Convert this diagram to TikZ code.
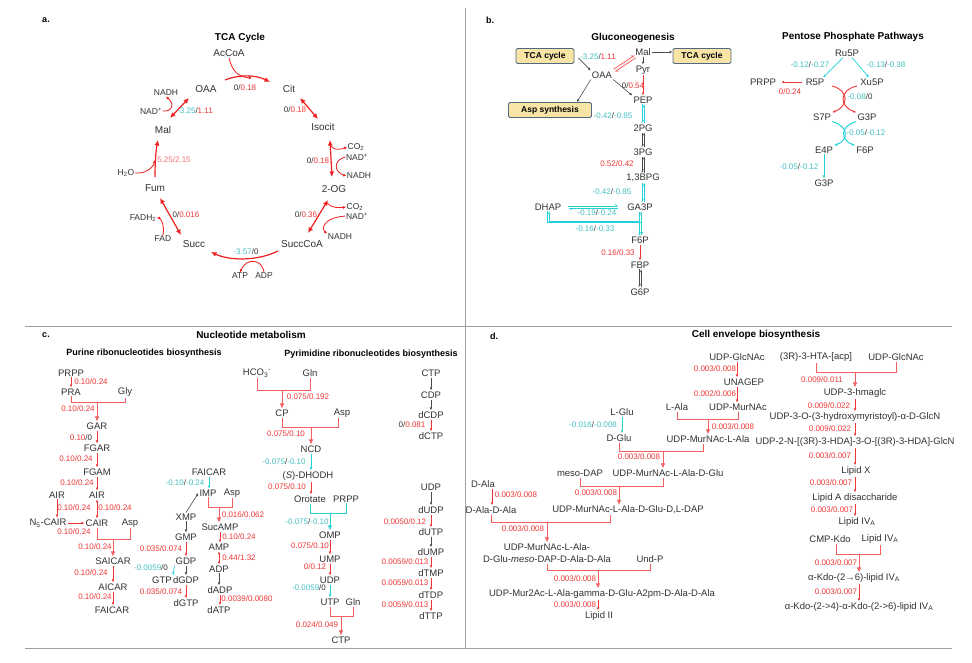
\documentclass[tikz,border=0pt]{standalone}
\usepackage{fontspec}
\setmainfont{Liberation Sans}
\usetikzlibrary{arrows.meta,calc}

\definecolor{fred}{RGB}{240,55,55}
\definecolor{tred}{RGB}{240,30,30}
\definecolor{fpink}{RGB}{245,115,115}
\definecolor{fcyan}{RGB}{70,192,194}
\definecolor{acyan}{RGB}{35,210,216}
\definecolor{txt}{RGB}{50,50,50}
\definecolor{boxfill}{RGB}{248,229,166}
\definecolor{boxline}{RGB}{80,104,132}

\newcommand{\rv}[1]{\textcolor{fred}{#1}}
\newcommand{\cv}[1]{\textcolor{fcyan}{#1}}
\newcommand{\lipa}{Lipid IV\textsubscript{A}}
% straight step down from one node to the next
\newcommand{\vstep}[3][rx]{\draw[#1] (#2.south) -- (#2.south |- #3.north);}
% two opposite harpoons between stacked nodes
\newcommand{\eqpair}[3]{%
  \draw[hp,#3] ($(#1.south)+(-1.2,0)$) -- ($(#1.south |- #2.north)+(-1.2,0)$);
  \draw[hp,#3] ($(#1.south |- #2.north)+(1.2,0)$) -- ($(#1.south)+(1.2,0)$);}

\begin{document}
\begin{tikzpicture}[x=1pt,y=-1pt,
  every node/.style={font=\fontsize{9.5}{10.5}\selectfont,text=txt,inner sep=1pt},
  tnm/.style={font=\fontsize{10}{11}\selectfont},
  cof/.style={font=\fontsize{8.5}{9}\selectfont,inner sep=0.5pt},
  fl/.style={font=\fontsize{8}{9}\selectfont,inner sep=0pt},
  ttl/.style={font=\bfseries\fontsize{10}{12}\selectfont,text=black},
  sub/.style={font=\bfseries\fontsize{9}{11}\selectfont,text=black},
  box/.style={draw=boxline,fill=boxfill,rounded corners=1.5pt,line width=0.8pt,
    font=\bfseries\fontsize{8.5}{10}\selectfont,text=black,minimum height=15pt},
  divider/.style={draw=gray!75,line width=0.9pt},
  rx/.style={draw=fred,line width=0.6pt,-{Latex[length=3pt,width=2.6pt]}},
  rxb/.style={rx,{Latex[length=3pt,width=2.6pt]}-{Latex[length=3pt,width=2.6pt]}},
  cx/.style={draw=acyan,line width=0.7pt,-{Latex[length=3pt,width=2.6pt]}},
  gx/.style={draw=gray!60!black,line width=0.6pt,-{Latex[length=3pt,width=2.6pt]}},
  rb/.style={draw=fred!80,line width=0.7pt},
  cb/.style={draw=acyan,line width=0.9pt},
  bt/.style={-{Latex[length=5pt,width=4.6pt]}},
  tca/.style={draw=tred,line width=1.2pt,-{Latex[length=5.5pt,width=5pt]}},
  tcab/.style={tca,{Latex[length=5.5pt,width=5pt]}-{Latex[length=5.5pt,width=5pt]}},
  side/.style={draw=tred,line width=0.8pt,-{Latex[length=3pt,width=3pt]}},
  hp/.style={line width=0.6pt,-{Straight Barb[harpoon,length=2.5pt,width=3.5pt]}}]

\useasboundingbox (0,0) rectangle (972,662);
\fill[white] (0,0) rectangle (972,662);

% panel frame
\draw[divider] (465,8) -- (465,648);
\draw[divider] (25,326) -- (952,326);
\draw[divider] (25,648) -- (952,648);

% ---------------- a. TCA cycle
\node[sub] (la) at (46,20) {a.};
\node[ttl] (ttca) at (240,38) {TCA Cycle};
\node[tnm] (acc) at (229,53) {AcCoA};
\node[tnm] (oaa) at (206,89) {OAA};
\node[tnm] (cit) at (289,89) {Cit};
\node[tnm] (icit) at (323,127) {Isocit};
\node[tnm] (og) at (334,189) {2-OG};
\node[tnm] (scoa) at (302,244) {SuccCoA};
\node[tnm] (succ) at (194,244) {Succ};
\node[tnm] (fum) at (155,188) {Fum};
\node[tnm] (mal) at (163,130) {Mal};
% cofactors
\node[cof] (nadha) at (166,93) {NADH};
\node[cof] (nada) at (151,111) {NAD\textsuperscript{+}};
\node[cof] (co2a) at (356,147) {CO\textsubscript{2}};
\node[cof] (nadb) at (357,157) {NAD\textsuperscript{+}};
\node[cof] (nadhb) at (359,176) {NADH};
\node[cof] (co2b) at (355,207) {CO\textsubscript{2}};
\node[cof] (nadc) at (357,216) {NAD\textsuperscript{+}};
\node[cof] (nadhc) at (340,237) {NADH};
\node[cof] (atp) at (240,276) {ATP};
\node[cof] (adp) at (264,276) {ADP};
\node[cof] (fadh) at (143,218) {FADH\textsubscript{2}};
\node[cof] (fad) at (163,239) {FAD};
\node[cof] (h2o) at (126,173) {H\textsubscript{2}O};

\draw[tca] ($(oaa)+(19,-9)$) .. controls (240,74) and (256,75) .. ($(cit)+(-19,-7)$);
\draw[side] (acc.south) .. controls (232,71) and (238,77) .. (252,78);
\draw[tcab] ($(cit)+(11,9)$) -- ($(icit)+(-5,-8)$);
\draw[tcab] ($(icit)+(7,13)$) -- ($(og)+(-2,-12)$);
\draw[side] (331,146) .. controls (334,151) and (342,149) .. (co2a.west);
\draw[side] (nadb.west) .. controls (333,160) and (334,172) .. (nadhb.west);
\draw[tcab] ($(og)+(-6,11)$) -- ($(scoa)+(6,-11)$);
\draw[side] (327,203) .. controls (331,208) and (339,208) .. (co2b.west);
\draw[side] (nadc.west) .. controls (321,218) and (322,230) .. (nadhc.north west);
\draw[tca] ($(scoa)+(-24,7)$) .. controls (258,261) and (230,261) .. ($(succ)+(17,8)$);
\draw[side] (adp.north) .. controls (262,258) and (246,258) .. (atp.north);
\draw[tcab] ($(succ)+(-13,-9)$) -- ($(fum)+(5,10)$);
\draw[side] (fad.north) .. controls (165,224) and (160,218) .. (fadh.east);
\draw[tca] ($(fum)+(0,-11)$) .. controls (155,162) and (156,150) .. ($(mal)+(-5,10)$);
\draw[side] (h2o.east) .. controls (145,174) and (153,168) .. (155,160);
\draw[tcab] ($(mal)+(7,-12)$) -- ($(oaa)+(-17,9)$);
\draw[side] (nada.east) .. controls (172,112) and (175,104) .. (nadha.south);

\node[fl] (fa1) at (245,88) {0/\rv{0.18}};
\node[fl] (fa2) at (295,110) {0/\rv{0.18}};
\node[fl] (fa3) at (318,161) {0/\rv{0.18}};
\node[fl] (fa4) at (306,215) {0/\rv{0.36}};
\node[fl] (fa5) at (246,252) {\cv{-3.57}/0};
\node[fl] (fa6) at (186,215) {0/\rv{0.016}};
\node[fl,text=fpink] (fa7) at (174,160) {5.25/2.15};
\node[fl] (fa8) at (195,111) {\cv{-3.25}/\rv{1.11}};

% ---------------- b. gluconeogenesis
\node[sub] (lb) at (490,20) {b.};
\node[ttl] (tglu) at (633,38) {Gluconeogenesis};
\node[box,minimum width=58pt] (tcal) at (545,56) {TCA cycle};
\node[box,minimum width=58pt] (tcar) at (702,56) {TCA cycle};
\node[box,minimum width=83pt] (asps) at (550,110) {Asp synthesis};
\node (gmal) at (643,52) {Mal};
\node (gpyr) at (643,70) {Pyr};
\node (goaa) at (602,75) {OAA};
\node (gpep) at (643,100) {PEP};
\node (g2pg) at (643,128) {2PG};
\node (g3pg) at (643,152) {3PG};
\node (gbpg) at (643,178) {1,3BPG};
\node (gga3p) at (640,207) {GA3P};
\node (gdhap) at (548,207) {DHAP};
\node (gf6p) at (640,240) {F6P};
\node (gfbp) at (640,265) {FBP};
\node (gg6p) at (640,292) {G6P};

\draw[gx] ($(tcal.east)+(4,2)$) -- (goaa.north west);
\draw[gx] (gmal.east) -- (gmal.east -| tcar.west);
\vstep[gx]{gmal}{gpyr}
\vstep{gpyr}{gpep}
\draw[gx] (goaa.south east) -- (gpep.north west);
\draw[gx] (goaa.south west) -- ($(asps.north east)+(-15,0)$);
\draw[hp,fred] ($(goaa.north east)+(0.4,-1.2)$) -- ($(gmal.south west)+(0.4,-1.2)$);
\draw[hp,fred] ($(gmal.south west)+(1.6,1.2)$) -- ($(goaa.north east)+(1.6,1.2)$);
\eqpair{gpep}{g2pg}{acyan}
\eqpair{g2pg}{g3pg}{gray!60!black}
\eqpair{g3pg}{gbpg}{gray!60!black}
\eqpair{gbpg}{gga3p}{acyan}
\eqpair{gga3p}{gf6p}{acyan}
\vstep{gf6p}{gfbp}
\eqpair{gfbp}{gg6p}{gray!60!black}
\draw[hp,acyan] ($(gdhap.east)+(6,-1.2)$) -- ($(gga3p.west)+(-8,-1.2)$);
\draw[hp,acyan] ($(gga3p.west)+(-8,1.2)$) -- ($(gdhap.east)+(6,1.2)$);
\draw[hp,acyan] ($(gdhap.south)+(-1.2,0)$) -- ++(0,10.5) -| ($(gf6p.north)+(1.2,0)$);
\draw[hp,acyan] ($(gf6p.north)+(-1.2,0)$) -- ++(0,-14) -| ($(gdhap.south)+(1.2,0)$);

\node[fl] (fb1) at (598,57) {\cv{-3.25}/\rv{1.11}};
\node[fl] (fb2) at (633,86) {0/\rv{0.54}};
\node[fl] (fb3) at (613,116) {\cv{-0.42}/\cv{-0.85}};
\node[fl] (fb4) at (617,164) {\rv{0.52/0.42}};
\node[fl] (fb5) at (612,192) {\cv{-0.42}/\cv{-0.85}};
\node[fl] (fb6) at (597,213) {\cv{-0.19}/\cv{-0.24}};
\node[fl] (fb7) at (595,229) {\cv{-0.16}/\cv{-0.33}};
\node[fl] (fb8) at (618,253) {\rv{0.16/0.33}};

% pentose phosphate
\node[ttl] (tppp) at (853,37) {Pentose Phosphate Pathways};
\node (ru5p) at (847,53) {Ru5P};
\node (r5p) at (815,82) {R5P};
\node (xu5p) at (872,82) {Xu5P};
\node (prppa) at (763,82) {PRPP};
\node (s7p) at (822,117) {S7P};
\node (pg3p) at (867,117) {G3P};
\node (e4p) at (824,150) {E4P};
\node (pf6p) at (865,150) {F6P};
\node (pg3pb) at (824,183) {G3P};

\draw[cx] ($(ru5p.south)+(-4,0)$) -- ($(r5p.north)+(8,0)$);
\draw[cx] ($(ru5p.south)+(5,0)$) -- ($(xu5p.north)+(-3,0)$);
\draw[rx,shorten <=3pt,shorten >=4pt] (r5p.west) -- (prppa.east);
\draw[rx,line width=0.9pt] ($(r5p)+(17,4)$) .. controls (849,90) and (849,106) .. (s7p.north east);
\draw[rx,line width=0.9pt] ($(xu5p)+(-15,4)$) .. controls (839,90) and (839,106) .. (pg3p.north west);
\draw[cx,line width=1pt] (s7p.south east) .. controls (849,126) and (849,140) .. (e4p.north east);
\draw[cx,line width=1pt] (pg3p.south west) .. controls (840,126) and (840,140) .. (pf6p.north west);
\vstep[cx]{e4p}{pg3pb}

\node[fl] (fp1) at (810,65) {\cv{-0.12}/\cv{-0.27}};
\node[fl] (fp2) at (886,65) {\cv{-0.13}/\cv{-0.38}};
\node[fl] (fp3) at (790,92) {\rv{0/0.24}};
\node[fl] (fp4) at (860,97) {\cv{-0.08}/0};
\node[fl] (fp5) at (866,133) {\cv{-0.05}/\cv{-0.12}};
\node[fl] (fp6) at (799,167) {\cv{-0.05}/\cv{-0.12}};

% ---------------- c. nucleotide metabolism
\node[sub] (lc) at (46,335) {c.};
\node[ttl] (tnuc) at (251,335) {Nucleotide metabolism};
\node[sub] (tpur) at (144,353) {Purine ribonucleotides biosynthesis};
\node[sub] (tpyr) at (371,354) {Pyrimidine ribonucleotides biosynthesis};

% purine
\node (pprpp) at (71,373) {PRPP};
\node (ppra) at (71,392) {PRA};
\node (pgly) at (125,392) {Gly};
\node (pgar) at (97,426) {GAR};
\node (pfgar) at (97,448) {FGAR};
\node (pfgam) at (97,472) {FGAM};
\node (pairl) at (57,495) {AIR};
\node (pairr) at (97,495) {AIR};
\node (pn5) at (48,523) {N\textsubscript{5}-CAIR};
\node (pcair) at (97,523) {CAIR};
\node (pasp) at (130,523) {Asp};
\node (psaicar) at (113,561) {SAICAR};
\node (paicar) at (113,587) {AICAR};
\node (pfaicar) at (112,610) {FAICAR};

\vstep{pprpp}{ppra}
\draw[rb] (ppra.south) -- ++(0,6) coordinate (jgar) -| (pgly.south);
\draw[rb,bt] (jgar -| pgar) -- (pgar);
\vstep{pgar}{pfgar}
\vstep{pfgar}{pfgam}
\vstep{pfgam}{pairr}
\vstep{pairl}{pn5}
\vstep[rxb]{pairr}{pcair}
\draw[rx] (pn5) -- (pcair);
\draw[rb] (pcair.south) -- ++(0,12) coordinate (jsai) -| (pasp.south);
\draw[rb,bt] (jsai -| psaicar) -- (psaicar);
\vstep{psaicar}{paicar}
\vstep{paicar}{pfaicar}

\node[fl] (fc1) at (91,382) {\rv{0.10/0.24}};
\node[fl] (fc2) at (78,409) {\rv{0.10/0.24}};
\node[fl] (fc3) at (81,438) {\rv{0.10}/0};
\node[fl] (fc4) at (76,459) {\rv{0.10/0.24}};
\node[fl] (fc5) at (77,483) {\rv{0.10/0.24}};
\node[fl] (fc6) at (74,508) {\rv{0.10/0.24}};
\node[fl] (fc7) at (115,508) {\rv{0.10/0.24}};
\node[fl] (fc8) at (74,532) {\rv{0.10/0.24}};
\node[fl] (fc9) at (95,547) {\rv{0.10/0.24}};
\node[fl] (fc10) at (91,573) {\rv{0.10/0.24}};
\node[fl] (fc11) at (95,597) {\rv{0.10/0.24}};

% IMP branch
\node (pfaicarb) at (209,472) {FAICAR};
\node (pimp) at (208,493) {IMP};
\node (paspb) at (232,493) {Asp};
\node (pxmp) at (186,517) {XMP};
\node (pgmp) at (186,537) {GMP};
\node (pgdp) at (186,561) {GDP};
\node (pgtp) at (162,580) {GTP};
\node (pdgdp) at (186,580) {dGDP};
\node (pdgtp) at (186,603) {dGTP};
\node (psucamp) at (220,527) {SucAMP};
\node (pamp) at (219,547) {AMP};
\node (padp) at (219,569) {ADP};
\node (pdadp) at (220,590) {dADP};
\node (pdatp) at (219,610) {dATP};

\vstep[cx]{pfaicarb}{pimp}
\draw[gx] (pxmp.north) -- (pimp.west);
\vstep[gx]{pxmp}{pgmp}
\vstep{pgmp}{pgdp}
\draw[cx] (pgdp.south west) -- (pgtp.north east);
\vstep[gx]{pgdp}{pdgdp}
\vstep{pdgdp}{pdgtp}
\draw[rb] (pimp.south) -- ++(0,9.5) coordinate (jsuc) -| (paspb.south);
\draw[rb,bt] (jsuc -| pamp) -- (pamp |- psucamp.north);
\vstep{psucamp}{pamp}
\vstep[rxb]{pamp}{padp}
\vstep[gx]{padp}{pdadp}
\vstep{pdadp}{pdatp}

\node[fl] (fc12) at (185,483) {\cv{-0.10}/\cv{-0.24}};
\node[fl] (fc13) at (161,549) {\rv{0.035/0.074}};
\node[fl] (fc14) at (151,568) {\cv{-0.0059}/0};
\node[fl] (fc15) at (161,592) {\rv{0.035/0.074}};
\node[fl] (fc16) at (243,515) {\rv{0.016/0.062}};
\node[fl] (fc17) at (239,537) {\rv{0.10/0.24}};
\node[fl] (fc18) at (239,558) {\rv{0.44/1.32}};
\node[fl] (fc19) at (247,599) {\rv{0.0039/0.0080}};

% pyrimidine
\node (yhco) at (257,373) {HCO\textsubscript{3}\textsuperscript{-}};
\node (ygln) at (310,373) {Gln};
\node (ycp) at (282,413) {CP};
\node (yasp) at (342,413) {Asp};
\node (yncd) at (311,449) {NCD};
\node (ydhodh) at (308,476) {(\textit{S})-DHODH};
\node (yoro) at (310,499) {Orotate};
\node (yprpp) at (346,499) {PRPP};
\node (yomp) at (330,535) {OMP};
\node (yump) at (330,559) {UMP};
\node (yudp) at (330,580) {UDP};
\node (yutp) at (330,602) {UTP};
\node (yglnb) at (353,602) {Gln};
\node (yctp) at (341,640) {CTP};

\draw[rb] (ygln.south) -- ++(0,12.5) coordinate (jcp) -| (yhco.south |- ygln.south);
\draw[rb,bt] (jcp -| ycp) -- (ycp);
\draw[rb] (ycp.south) -- ++(0,9.5) coordinate (jncd) -| ($(yasp.south)+(-4,0)$);
\draw[rb,bt] (jncd -| yncd) -- (yncd);
\vstep[cx]{yncd}{ydhodh}
\draw[rx] (yncd.south |- ydhodh.south) -- (yncd.south |- yoro.north);
\draw[cb] (yoro.south) -- ++(0,9.5) coordinate (jomp) -| (yprpp.south);
\draw[cb,bt] (jomp -| yomp) -- (yomp);
\vstep{yomp}{yump}
\vstep{yump}{yudp}
\vstep[cx]{yudp}{yutp}
\draw[rb] (yutp.south) -- ++(0,9.5) coordinate (jctp) -| (yglnb.south);
\draw[rb,bt] (jctp -| yctp) -- (yctp);

\node[fl] (fy1) at (308,397) {\rv{0.075/0.192}};
\node[fl] (fy2) at (286,434) {\rv{0.075/0.10}};
\node[fl] (fy3) at (284,462) {\cv{-0.075}/\cv{-0.10}};
\node[fl] (fy4) at (287,487) {\rv{0.075/0.10}};
\node[fl] (fy5) at (307,522) {\cv{-0.075}/\cv{-0.10}};
\node[fl] (fy6) at (310,546) {\rv{0.075/0.10}};
\node[fl] (fy7) at (315,567) {\rv{0/0.12}};
\node[fl] (fy8) at (309,588) {\cv{-0.0059}/0};
\node[fl] (fy9) at (317,625) {\rv{0.024/0.049}};

% deoxy column
\node (kctp) at (431,373) {CTP};
\node (kcdp) at (431,395) {CDP};
\node (kdcdp) at (431,415) {dCDP};
\node (kdctp) at (431,436) {dCTP};
\node (kudp) at (431,487) {UDP};
\node (kdudp) at (431,510) {dUDP};
\node (kdutp) at (431,532) {dUTP};
\node (kdump) at (431,552) {dUMP};
\node (kdtmp) at (431,573) {dTMP};
\node (kdtdp) at (431,595) {dTDP};
\node (kdttp) at (431,616) {dTTP};

\vstep[gx]{kctp}{kcdp}
\vstep[gx]{kcdp}{kdcdp}
\vstep{kdcdp}{kdctp}
\vstep[gx]{kudp}{kdudp}
\vstep{kdudp}{kdutp}
\vstep[gx]{kdutp}{kdump}
\vstep{kdump}{kdtmp}
\vstep{kdtmp}{kdtdp}
\vstep{kdtdp}{kdttp}

\node[fl] (fk1) at (412,425) {0/\rv{0.081}};
\node[fl] (fk2) at (405,522) {\rv{0.0050/0.12}};
\node[fl] (fk3) at (405,562) {\rv{0.0059/0.013}};
\node[fl] (fk4) at (405,583) {\rv{0.0059/0.013}};
\node[fl] (fk5) at (405,605) {\rv{0.0059/0.013}};

% ---------------- d. cell envelope
\node[sub] (ld) at (494,336) {d.};
\node[ttl] (tcell) at (756,335) {Cell envelope biosynthesis};

\node (eug) at (737,357) {UDP-GlcNAc};
\node (eun) at (744,382) {UNAGEP};
\node (emn) at (738,407) {UDP-MurNAc};
\node (ela) at (677,407) {L-Ala};
\node (ema) at (708,439) {UDP-MurNAc-L-Ala};
\node (elg) at (622,412) {L-Glu};
\node (edg) at (619,438) {D-Glu};
\node (emg) at (668,473) {UDP-MurNAc-L-Ala-D-Glu};
\node (edap) at (580,473) {meso-DAP};
\node (edl) at (628,510) {UDP-MurNAc-L-Ala-D-Glu-D,L-DAP};
\node (eda) at (483,484) {D-Ala};
\node (edd) at (491,510) {D-Ala-D-Ala};
\node[align=center,font=\fontsize{9.5}{12}\selectfont] (emm) at (547,553) {UDP-MurNAc-L-Ala-\\D-Glu-\textit{meso}-DAP-D-Ala-D-Ala};
\node (eup) at (650,559) {Und-P};
\node (emur) at (602,594) {UDP-Mur2Ac-L-Ala-gamma-D-Glu-A2pm-D-Ala-D-Ala};
\node (elip) at (599,616) {Lipid II};

\vstep{eug}{eun}
\draw[rx] (eug.south |- eun.south) -- (eug.south |- emn.north);
\draw[rb] (ela.south) -- ++(0,7.5) coordinate (jma) -| (emn.south);
\draw[rb,bt] (jma -| ema) -- (ema);
\vstep[cx]{elg}{edg}
\draw[rb] (edg.south) -- ++(0,8.5) coordinate (jmg) -| ($(ema.south)+(-5,0)$);
\draw[rb,bt] ($(jmg -| emg)+(-5,0)$) -- ($(emg.north)+(-5,0)$);
\draw[rb] (edap.south) -- ++(0,8.5) coordinate (jdl) -| ($(emg.south)+(-5,0)$);
\draw[rb,bt] ($(jdl -| edl)+(-9,0)$) -- ($(edl.north)+(-9,0)$);
\draw[rx] ($(eda.south)+(9,0)$) -- ($(eda.south |- edd.north)+(9,0)$);
\draw[rb] (edd.south) -- ++(0,7.5) coordinate (jmm) -| ($(edl.south)+(-18,0)$);
\draw[rb,bt] (jmm -| emm) -- (emm);
\draw[rb] (emm.south) -- ++(0,7) coordinate (jmur) -| (eup.south);
\draw[rb,bt] ($(jmur -| emur)+(-4,0)$) -- ($(emur.north)+(-4,0)$);
\draw[rx] ($(emur.south)+(-4,0)$) -- ($(emur.south |- elip.north)+(-4,0)$);

\node[fl] (fe1) at (715,369) {\rv{0.003/0.008}};
\node[fl] (fe2) at (715,394) {\rv{0.002/0.006}};
\node[fl] (fe3) at (733,427) {\rv{0.003/0.008}};
\node[fl] (fe4) at (593,425) {\cv{-0.016}/\cv{-0.008}};
\node[fl] (fe5) at (639,457) {\rv{0.003/0.008}};
\node[fl] (fe6) at (596,493) {\rv{0.003/0.008}};
\node[fl] (fe7) at (516,495) {\rv{0.003/0.008}};
\node[fl] (fe8) at (523,529) {\rv{0.003/0.008}};
\node[fl] (fe9) at (575,579) {\rv{0.003/0.008}};
\node[fl] (fe10) at (575,605) {\rv{0.003/0.008}};

% lipid A branch
\node (ehta) at (816,357) {(3R)-3-HTA-[acp]};
\node (eugb) at (896,357) {UDP-GlcNAc};
\node (ehm) at (855,393) {UDP-3-hmaglc};
\node (eho) at (855,417) {UDP-3-O-(3-hydroxymyristoyl)-α-D-GlcN};
\node (ehda) at (855,442) {UDP-2-N-[(3R)-3-HDA]-3-O-[(3R)-3-HDA]-GlcN};
\node (elx) at (856,471) {Lipid X};
\node (elad) at (855,498) {Lipid A disaccharide};
\node (eliva) at (857,522) {\lipa};
\node (ecmp) at (830,539) {CMP-Kdo};
\node (elivb) at (880,539) {\lipa};
\node (ekdo) at (854,578) {α-Kdo-(2→6)-lipid IV\textsubscript{A}};
\node (ekdob) at (859,607) {α-Kdo-(2->4)-α-Kdo-(2->6)-lipid IV\textsubscript{A}};

\draw[rb] (ehta.south) -- ++(0,9.5) coordinate (jhm) -| (eugb.south);
\draw[rb,bt] (jhm -| ehm) -- (ehm);
\vstep{ehm}{eho}
\vstep{eho}{ehda}
\draw[rx] (ehda.south) -- (ehda.south |- elx.north);
\draw[rx] (ehda.south |- elx.south) -- (ehda.south |- elad.north);
\draw[rx] (ehda.south |- elad.south) -- (ehda.south |- eliva.north);
\draw[rb] ($(ecmp.south)+(6,0)$) -- ++(0,10.5) coordinate (jkdo) -| (elivb.south);
\draw[rb,bt] ($(jkdo -| ekdo)+(5,0)$) -- ($(ekdo.north)+(5,0)$);
\draw[rx] ($(ekdo.south)+(5,0)$) -- ($(ekdo.south |- ekdob.north)+(5,0)$);

\node[fl] (fe11) at (822,380) {\rv{0.009/0.011}};
\node[fl] (fe12) at (829,406) {\rv{0.009/0.022}};
\node[fl] (fe13) at (830,429) {\rv{0.009/0.022}};
\node[fl] (fe14) at (830,456) {\rv{0.003/0.007}};
\node[fl] (fe15) at (831,483) {\rv{0.003/0.007}};
\node[fl] (fe16) at (832,510) {\rv{0.003/0.007}};
\node[fl] (fe17) at (836,563) {\rv{0.003/0.007}};
\node[fl] (fe18) at (836,592) {\rv{0.003/0.007}};

\end{tikzpicture}
\end{document}
